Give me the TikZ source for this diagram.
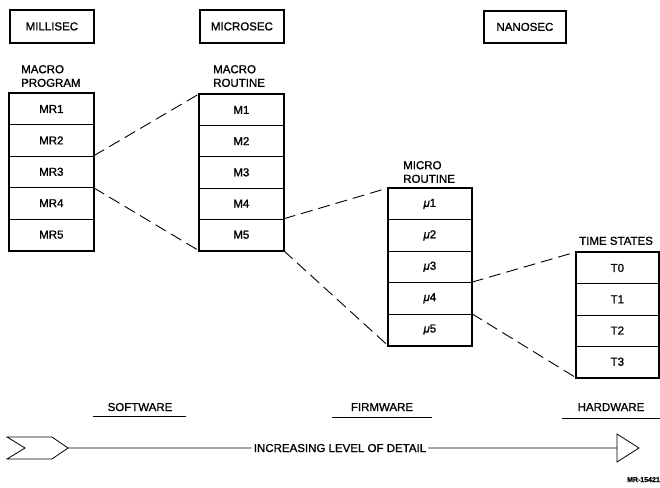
\documentclass[tikz,border=0pt]{standalone}
\usepackage{fontspec}
\setmainfont{Liberation Sans}
\newfontfamily\labelfont{Liberation Sans}[FakeBold=1.2]
\begin{document}
\begin{tikzpicture}[x=1pt,y=-1pt,
  txt/.style={font=\labelfont\fontsize{11.5}{13.6}\selectfont},
  cell/.style={draw, line width=0.7pt, inner sep=0pt, anchor=north west,
    minimum height=31.3pt, txt},
  framebox/.style={line width=1.8pt},
  scalebox/.style={draw, line width=1.8pt, inner sep=0pt, minimum width=84pt,
    minimum height=33pt, anchor=north west, txt},
  colhead/.style={anchor=south west, align=left, inner sep=0pt, text depth=0pt, txt},
  zoomline/.style={line width=0.9pt, dash pattern=on 12pt off 6pt},
  bottomlab/.style={anchor=base, inner sep=0pt, txt},
  rule/.style={line width=0.9pt},
  arrowline/.style={line width=0.8pt}]
\useasboundingbox (0,0) rectangle (660,487);

% time-scale headings
\node[scalebox] (ms) at (9,9) {MILLISEC};
\node[scalebox] (us) at (199,9) {MICROSEC};
\node[scalebox, minimum width=82pt, minimum height=32pt] (ns) at (483,10) {NANOSEC};

% macro program column
\node[colhead] (lblA) at (21,87) {MACRO\\PROGRAM};
\foreach \i/\y in {1/93,2/124.4,3/155.8,4/187.2,5/218.6}
  \node[cell, minimum width=84pt] (mr\i) at (9,\y) {MR\i};
\draw[framebox] (mr1.north west) rectangle (mr5.south east);

% macro routine column
\node[colhead] (lblB) at (213,87) {MACRO\\ROUTINE};
\foreach \i/\y in {1/94,2/125.2,3/156.4,4/187.6,5/218.8}
  \node[cell, minimum width=84pt, minimum height=31.2pt] (m\i) at (199,\y) {M\i};
\draw[framebox] (m1.north west) rectangle (m5.south east);

% micro routine column
\node[colhead] (lblC) at (403,183) {MICRO\\ROUTINE};
\foreach \i/\y in {1/188,2/219.4,3/250.8,4/282.2,5/313.6}
  \node[cell, minimum width=83pt] (u\i) at (388,\y) {\textit{μ}\i};
\draw[framebox] (u1.north west) rectangle (u5.south east);

% time states column
\node[colhead] (lblD) at (579,245) {TIME STATES};
\foreach \i/\y in {0/252,1/283.25,2/314.5,3/345.75}
  \node[cell, minimum width=82pt, minimum height=31.25pt] (t\i) at (576,\y) {T\i};
\draw[framebox] (t0.north west) rectangle (t3.south east);

% expansion lines
\draw[zoomline] (mr3.north east) -- (m1.north west);
\draw[zoomline] (mr3.south east) -- (m5.south west);
\draw[zoomline] (m5.north east) -- (u1.north west);
\draw[zoomline] (m5.south east) -- (u5.south west);
\draw[zoomline] (u4.north east) -- (t0.north west);
\draw[zoomline] (u5.north east) -- (t3.south west);

% levels
\node[bottomlab] (sw) at (140,411) {SOFTWARE};
\node[bottomlab] (fw) at (382,411) {FIRMWARE};
\node[bottomlab] (hw) at (611,411) {HARDWARE};
\draw[rule] (93,416) -- (186,416);
\draw[rule] (332,417) -- (432,417);
\draw[rule] (562,418) -- (660,418);

% detail arrow
\coordinate (tailtip) at (68,448);
\coordinate (headbase) at (617,448);
\draw[arrowline] (7,437) -- (52,437) -- (tailtip) -- (52,459) -- (7,459) -- (25,448) -- cycle;
\node[anchor=base, inner sep=2pt, txt] (detail) at (340,452) {INCREASING LEVEL OF DETAIL};
\draw[arrowline] (tailtip) -- (detail.west);
\draw[arrowline] (detail.east) -- (headbase);
\draw[arrowline] (617,434) -- (639,448) -- (617,462) -- cycle;

\node[anchor=base east, inner sep=0pt, font=\labelfont\bfseries\fontsize{7}{9}\selectfont] (tag) at (660,482) {MR-15421};
\end{tikzpicture}
\end{document}
